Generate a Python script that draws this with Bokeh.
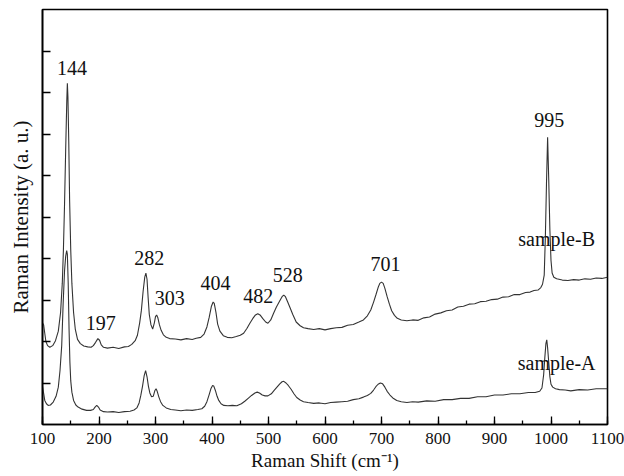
from bokeh.plotting import figure
from bokeh.models import Range1d, FixedTicker, SingleIntervalTicker, ColumnDataSource
from bokeh.core.properties import value
from bokeh.embed import file_html
from bokeh.resources import INLINE

# ---- data ----
b_shift = [100, 102, 104, 106, 109, 113, 118, 123, 128, 132, 135, 137, 139, 141, 143, 144, 145, 146.5, 148, 150,
           152, 155, 158, 162, 167, 173, 180, 186, 190, 194, 198, 201, 204, 208, 215, 225, 235, 245, 252, 258,
           264, 268, 272, 275, 278, 281, 283, 285, 287, 289, 292, 295, 298, 300, 302, 304, 307, 310, 314, 319,
           325, 335, 345, 355, 365, 372, 380, 386, 391, 395, 399, 402, 404, 407, 410, 414, 420, 427, 435, 443,
           450, 456, 462, 467, 472, 477, 481, 485, 490, 495, 499, 504, 509, 514, 520, 524, 527, 530, 534, 538,
           543, 549, 556, 562, 570, 580, 590, 600, 610, 620, 630, 640, 650, 660, 668, 675, 681, 686, 690, 694,
           697, 700, 703, 706, 710, 714, 718, 723, 728, 735, 745, 755, 765, 775, 785, 795, 805, 815, 825, 835,
           845, 855, 865, 875, 885, 895, 905, 915, 925, 935, 945, 955, 963, 970, 977, 982, 985, 988, 990, 992,
           994, 996, 998, 1000, 1002, 1005, 1010, 1020, 1030, 1040, 1050, 1060, 1070, 1080, 1090, 1100]
b_int = [2.45, 2.40, 2.20, 2.00, 1.90, 1.86, 1.90, 2.02, 2.25, 2.70, 3.40, 4.20, 5.30, 6.60, 7.80, 8.22, 7.90, 6.80, 5.40, 4.20,
         3.40, 2.70, 2.30, 2.05, 1.95, 1.89, 1.87, 1.86, 1.90, 1.98, 2.07, 2.03, 1.92, 1.86, 1.84, 1.86, 1.83, 1.87, 1.88, 1.93,
         2.02, 2.15, 2.45, 2.75, 3.20, 3.55, 3.65, 3.50, 3.05, 2.65, 2.40, 2.30, 2.45, 2.60, 2.64, 2.58, 2.40, 2.27, 2.16, 2.10,
         2.07, 2.06, 2.04, 2.07, 2.05, 2.08, 2.10, 2.18, 2.35, 2.58, 2.85, 2.95, 2.92, 2.70, 2.42, 2.25, 2.14, 2.10, 2.09, 2.12,
         2.15, 2.20, 2.32, 2.44, 2.55, 2.64, 2.67, 2.64, 2.55, 2.47, 2.44, 2.52, 2.68, 2.83, 2.98, 3.08, 3.12, 3.08, 2.95, 2.82,
         2.65, 2.47, 2.38, 2.33, 2.31, 2.29, 2.31, 2.28, 2.31, 2.33, 2.34, 2.39, 2.41, 2.47, 2.52, 2.62, 2.76, 2.95, 3.12, 3.30,
         3.40, 3.43, 3.40, 3.28, 3.08, 2.90, 2.74, 2.63, 2.56, 2.52, 2.50, 2.52, 2.51, 2.57, 2.59, 2.66, 2.69, 2.74, 2.76, 2.83,
         2.85, 2.90, 2.91, 2.96, 2.97, 3.01, 3.02, 3.07, 3.08, 3.13, 3.13, 3.18, 3.19, 3.23, 3.24, 3.30, 3.38, 3.60, 4.50, 5.80,
         6.92, 5.90, 4.70, 3.95, 3.65, 3.55, 3.51, 3.48, 3.47, 3.49, 3.48, 3.51, 3.50, 3.53, 3.52, 3.55]

a_shift = [100, 102, 104, 107, 110, 114, 119, 124, 128, 131, 134, 136.5, 139, 141, 142.8, 144, 145.5, 147, 148.5, 150,
           152, 155, 159, 163, 170, 178, 185, 190, 193, 196, 199, 202, 208, 215, 225, 235, 245, 255, 262, 267,
           271, 274, 277, 280, 282.5, 285, 287.5, 290, 293, 296, 299, 301, 303, 306, 309, 313, 319, 327, 335, 345,
           355, 365, 375, 382, 387, 391, 395, 398, 401, 403, 406, 409, 412, 416, 421, 428, 436, 444, 452, 458,
           464, 470, 476, 480, 484, 489, 494, 499, 505, 510, 515, 520, 524, 527, 531, 535, 540, 545, 550, 556,
           562, 570, 580, 590, 600, 610, 620, 630, 640, 650, 660, 668, 675, 681, 686, 690, 694, 698, 702, 706,
           710, 715, 720, 727, 735, 745, 755, 765, 780, 795, 810, 825, 840, 855, 870, 885, 900, 915, 930, 945,
           960, 972, 980, 984, 987, 989, 991, 992.5, 994, 996, 998, 1000, 1003, 1008, 1015, 1025, 1035, 1050, 1065, 1080,
           1100]
a_int = [0.92, 0.75, 0.58, 0.50, 0.46, 0.47, 0.54, 0.68, 0.90, 1.30, 1.90, 2.90, 3.70, 4.05, 4.19, 4.10, 3.40, 2.30, 1.50, 1.05,
         0.78, 0.58, 0.47, 0.42, 0.37, 0.34, 0.34, 0.36, 0.42, 0.46, 0.42, 0.35, 0.31, 0.30, 0.31, 0.29, 0.31, 0.32, 0.35, 0.40,
         0.52, 0.70, 0.92, 1.18, 1.30, 1.15, 0.92, 0.76, 0.67, 0.68, 0.82, 0.86, 0.80, 0.66, 0.55, 0.46, 0.40, 0.36, 0.35, 0.33,
         0.35, 0.34, 0.36, 0.38, 0.44, 0.55, 0.72, 0.86, 0.94, 0.93, 0.82, 0.68, 0.58, 0.50, 0.46, 0.45, 0.46, 0.45, 0.50, 0.56,
         0.63, 0.70, 0.76, 0.78, 0.76, 0.71, 0.69, 0.69, 0.74, 0.82, 0.90, 0.98, 1.03, 1.04, 1.00, 0.94, 0.85, 0.74, 0.65, 0.59,
         0.55, 0.53, 0.51, 0.52, 0.50, 0.53, 0.54, 0.55, 0.56, 0.60, 0.62, 0.66, 0.70, 0.75, 0.83, 0.91, 0.97, 1.00, 0.98, 0.90,
         0.80, 0.71, 0.64, 0.58, 0.55, 0.53, 0.55, 0.54, 0.57, 0.56, 0.60, 0.60, 0.63, 0.63, 0.67, 0.67, 0.71, 0.71, 0.74, 0.74,
         0.77, 0.77, 0.80, 0.88, 1.20, 1.60, 1.95, 2.04, 1.85, 1.50, 1.15, 0.97, 0.90, 0.86, 0.84, 0.83, 0.81, 0.84, 0.83, 0.86,
         0.86]

peak_text = ["144", "197", "282", "303", "404", "482", "528", "701", "995"]
peak_x = [152, 203, 289, 325, 406, 482, 534, 707, 997]
peak_y = [8.59, 2.45, 4.01, 3.05, 3.41, 3.09, 3.61, 3.86, 7.33]

sample_text = ["sample-B", "sample-A"]
sample_x = [1010, 1010]
sample_y = [4.46, 1.48]

x_ticks_major = 100
SERIF = "Liberation Serif"

p = figure(width=624, height=476, output_backend="svg", toolbar_location=None,
           x_range=Range1d(100, 1100), y_range=Range1d(0, 10),
           min_border_left=42, min_border_right=17, min_border_top=9, min_border_bottom=52)
p.xgrid.visible = False
p.ygrid.visible = False
p.outline_line_color = "black"
p.outline_line_width = 1.6
p.background_fill_color = "white"
p.border_fill_color = "white"

line_col = "#333333"
p.line(b_shift, b_int, line_color=line_col, line_width=1.1)
p.line(a_shift, a_int, line_color=line_col, line_width=1.1)

src_p = ColumnDataSource(dict(x=peak_x, y=peak_y, t=peak_text))
p.text(x="x", y="y", text="t", source=src_p, text_align="center", text_baseline="middle",
       text_font=value(SERIF), text_font_size="20px", text_color="#111111")
src_s = ColumnDataSource(dict(x=sample_x, y=sample_y, t=sample_text))
p.text(x="x", y="y", text="t", source=src_s, text_align="center", text_baseline="middle",
       text_font=value(SERIF), text_font_size="20px", text_color="#111111")

xa = p.xaxis[0]
xa.ticker = SingleIntervalTicker(interval=x_ticks_major, num_minor_ticks=2)
xa.major_tick_in = 8
xa.major_tick_out = 0
xa.minor_tick_in = 4
xa.minor_tick_out = 0
xa.major_label_standoff = 8
xa.major_label_text_font = SERIF
xa.major_label_text_font_size = "17px"
xa.major_label_text_color = "#111111"
xa.axis_label = "Raman Shift (cm\u207b\u00b9)"
xa.axis_label_text_font = SERIF
xa.axis_label_text_font_size = "19px"
xa.axis_label_text_font_style = "normal"
xa.axis_label_text_color = "#111111"
xa.axis_label_standoff = 3
xa.axis_line_width = 1.6
xa.major_tick_line_width = 1.3
xa.minor_tick_line_width = 1.3

ya = p.yaxis[0]
ya.ticker = FixedTicker(ticks=[1, 2, 3, 4, 5, 6, 7, 8, 9])
ya.major_label_overrides = {i: "" for i in range(11)}
ya.major_tick_in = 8
ya.major_tick_out = 0
ya.minor_tick_in = 0
ya.minor_tick_out = 0
ya.major_label_standoff = 0
ya.axis_label = "Raman Intensity (a. u.)"
ya.axis_label_text_font = SERIF
ya.axis_label_text_font_size = "21px"
ya.axis_label_text_font_style = "normal"
ya.axis_label_text_color = "#111111"
ya.axis_label_standoff = 10
ya.axis_line_width = 1.6
ya.major_tick_line_width = 1.3

open("out.html", "w").write(file_html(p, INLINE))
